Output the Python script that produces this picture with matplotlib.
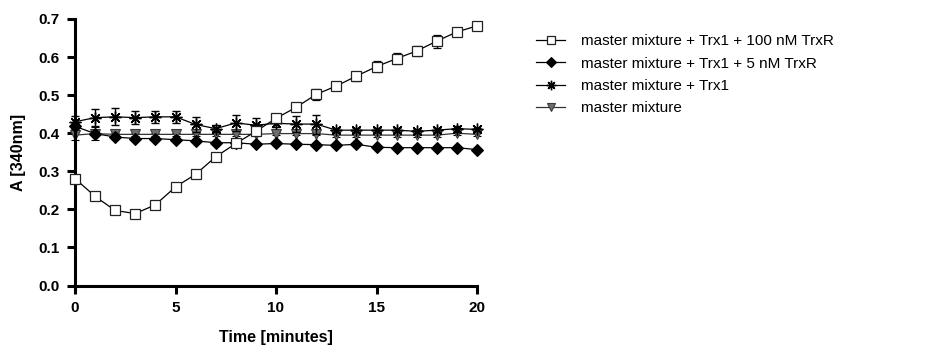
import matplotlib
matplotlib.use("Agg")
import matplotlib.pyplot as plt
from matplotlib.lines import Line2D

plt.rcParams['font.family'] = ['Liberation Sans', 'DejaVu Sans']

time = list(range(0, 21))

labels = [
    "master mixture + Trx1 + 100 nM TrxR",
    "master mixture + Trx1 + 5 nM TrxR",
    "master mixture + Trx1",
    "master mixture",
]

trxr100 = [0.281, 0.234, 0.197, 0.189, 0.212, 0.259, 0.292, 0.338, 0.373, 0.405, 0.439,
           0.468, 0.502, 0.524, 0.550, 0.575, 0.596, 0.616, 0.642, 0.666, 0.682]
trxr100_err = [0.005, 0.010, 0.010, 0.006, 0.006, 0.005, 0.005, 0.006, 0.006, 0.006, 0.008,
               0.010, 0.015, 0.010, 0.012, 0.015, 0.015, 0.012, 0.017, 0.010, 0.004]

trxr5 = [0.418, 0.399, 0.390, 0.386, 0.386, 0.383, 0.380, 0.375, 0.375, 0.371, 0.373,
         0.371, 0.370, 0.368, 0.371, 0.363, 0.362, 0.362, 0.362, 0.362, 0.357]
trxr5_err = [0.008, 0.018, 0.006, 0.004, 0.004, 0.004, 0.004, 0.004, 0.004, 0.004, 0.004,
             0.004, 0.004, 0.004, 0.004, 0.004, 0.004, 0.004, 0.004, 0.004, 0.004]

trx1 = [0.430, 0.441, 0.443, 0.441, 0.443, 0.443, 0.423, 0.412, 0.427, 0.421, 0.426,
        0.424, 0.424, 0.408, 0.408, 0.408, 0.408, 0.405, 0.408, 0.412, 0.410]
trx1_err = [0.015, 0.022, 0.022, 0.018, 0.015, 0.015, 0.020, 0.010, 0.020, 0.020, 0.010,
            0.020, 0.025, 0.005, 0.005, 0.005, 0.005, 0.005, 0.005, 0.008, 0.005]

master = [0.395, 0.399, 0.397, 0.397, 0.397, 0.397, 0.397, 0.397, 0.397, 0.397, 0.399,
          0.399, 0.399, 0.395, 0.395, 0.395, 0.395, 0.395, 0.395, 0.400, 0.397]
master_err = [0.012, 0.004, 0.004, 0.004, 0.004, 0.004, 0.004, 0.004, 0.004, 0.004, 0.004,
              0.004, 0.004, 0.004, 0.004, 0.004, 0.004, 0.004, 0.004, 0.004, 0.004]

xticks = [0, 5, 10, 15, 20]
yticks = [0.0, 0.1, 0.2, 0.3, 0.4, 0.5, 0.6, 0.7]

fig = plt.figure(figsize=(9.41, 3.45), dpi=100)
ax = fig.add_axes([75/941, 1-285.5/345, (477-75)/941, (285.5-19)/345])

common = dict(capsize=3, elinewidth=1, capthick=1, lw=0.9, ecolor='black')

styles = [
    dict(color='black', marker='s', ms=6.5, mfc='white', mec='#222222', mew=0.9),
    dict(color='black', marker='D', ms=6.3, mfc='black', mec='black', mew=0.8),
    dict(color='black', marker=(8, 2, 0), ms=8.5, mfc='black', mec='black', mew=1.0),
    dict(color='#333333', marker='v', ms=7.5, mfc='#6e6e6e', mec='#3a3a3a', mew=0.8),
]
series = [(trxr100, trxr100_err), (trxr5, trxr5_err), (trx1, trx1_err), (master, master_err)]
zorders = [5, 4, 3, 2]

for (vals, errs), st, z in zip(series, styles, zorders):
    cont = ax.errorbar(time, vals, yerr=errs, zorder=z, **common, **st)
    for art in [cont[0], *cont[1], *cont[2]]:
        art.set_clip_on(False)

ax.set_xlim(0, 20)
ax.set_ylim(0, 0.7)
ax.set_xticks(xticks)
ax.set_yticks(yticks)
ax.set_yticklabels([f"{v:.1f}" for v in yticks])
for s in ['top', 'right']:
    ax.spines[s].set_visible(False)
for s in ['left', 'bottom']:
    ax.spines[s].set_linewidth(2.2)
ax.tick_params(direction='out', length=6, width=2.2, labelsize=11, pad=5)
for t in ax.get_xticklabels() + ax.get_yticklabels():
    t.set_fontweight('bold')
ax.set_xlabel("Time [minutes]", fontsize=11.5, fontweight='bold', labelpad=11)
ax.set_ylabel("A [340nm]", fontsize=11.5, fontweight='bold', labelpad=9)

handles = []
for st in styles:
    h = dict(st)
    h['ms'] = h['ms'] * 0.8
    handles.append(Line2D([], [], lw=0.9, **h))
leg = fig.legend(handles, labels,
                 loc='upper left', bbox_to_anchor=(530/941, 1-28/345), frameon=False,
                 fontsize=11, handlelength=1.9, handletextpad=1.05, labelspacing=0.55,
                 borderaxespad=0)

fig.savefig("out.png", dpi=100)
